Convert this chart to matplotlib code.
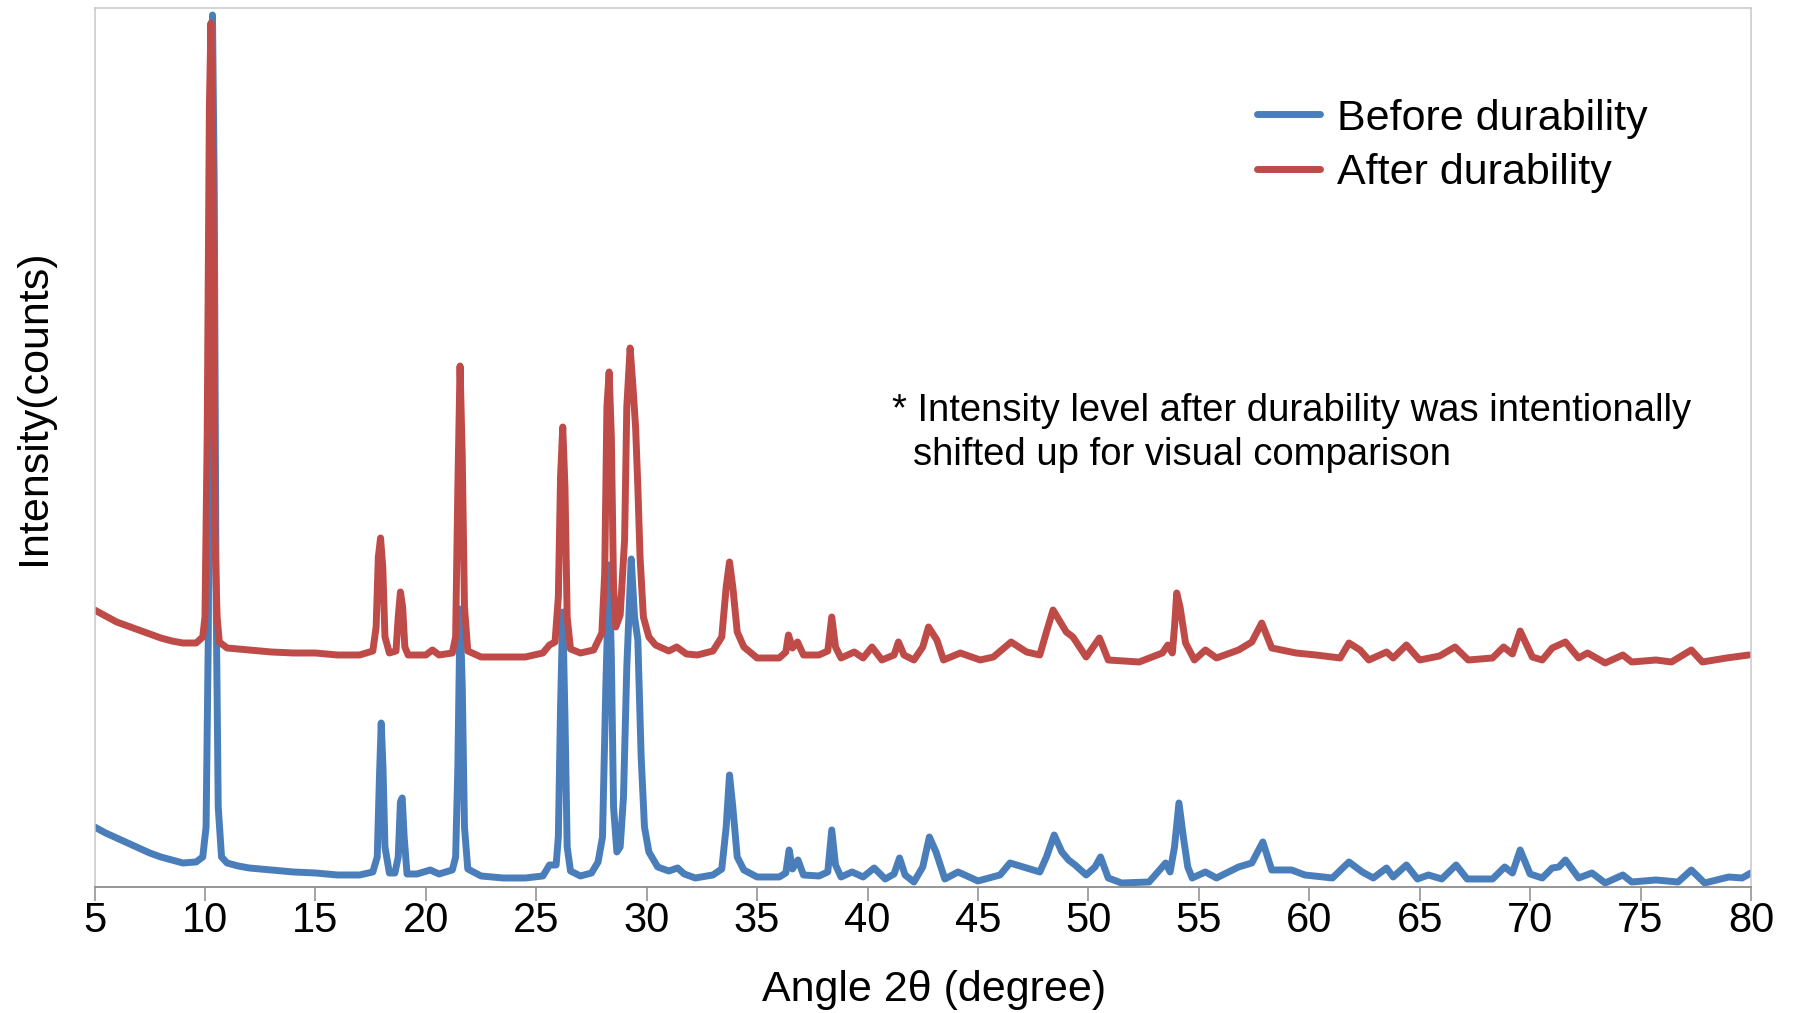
import matplotlib
matplotlib.use("Agg")
import matplotlib.pyplot as plt

plt.rcParams['font.family'] = ['Liberation Sans', 'DejaVu Sans']

# angle 2theta (degree) and intensity (arbitrary units)
before_angle = [5.0, 5.5, 6.0, 6.5, 7.0, 7.5, 8.0, 8.5, 9.0, 9.6, 9.9, 10.05, 10.15, 10.25, 10.34, 10.42, 10.5, 10.6,
                10.75, 11.0, 11.5, 12.0, 13.0, 14.0, 15.0, 16.0, 17.0, 17.6, 17.8, 17.9, 17.98, 18.06, 18.15, 18.35,
                18.6, 18.75, 18.85, 18.93, 19.02, 19.15, 19.6, 20.2, 20.6, 21.2, 21.35, 21.45, 21.55, 21.65, 21.75,
                21.9, 22.5, 23.5, 24.5, 25.3, 25.6, 25.9, 26.0, 26.1, 26.2, 26.3, 26.4, 26.55, 27.0, 27.5, 27.8, 28.0,
                28.15, 28.3, 28.4, 28.5, 28.65, 28.8, 28.95, 29.1, 29.3, 29.45, 29.6, 29.75, 29.9, 30.1, 30.5, 31.0,
                31.4, 31.7, 32.2, 33.0, 33.4, 33.6, 33.75, 33.9, 34.1, 34.4, 35.0, 36.0, 36.3, 36.45, 36.6, 36.85,
                37.1, 37.8, 38.2, 38.38, 38.55, 38.8, 39.3, 39.8, 40.3, 40.8, 41.2, 41.45, 41.7, 42.1, 42.5, 42.8,
                43.1, 43.5, 44.1, 45.0, 46.0, 46.45, 47.2, 47.8, 48.1, 48.45, 48.8, 49.1, 49.4, 49.9, 50.3, 50.55,
                50.9, 51.5, 52.75, 53.5, 53.7, 53.9, 54.1, 54.3, 54.5, 54.7, 55.3, 55.8, 56.8, 57.4, 57.9, 58.3, 59.2,
                59.8, 61.05, 61.8, 62.4, 62.9, 63.5, 63.8, 64.4, 64.9, 65.4, 66.0, 66.65, 67.15, 68.3, 68.85, 69.2,
                69.55, 70.0, 70.55, 71.0, 71.3, 71.6, 72.2, 72.8, 73.4, 74.2, 74.6, 75.7, 76.7, 77.3, 77.9, 79.0,
                79.6, 80.0]
before_counts = [60, 54, 49, 44, 39, 34, 30, 27, 24, 25, 30, 60, 250, 700, 872, 700, 300, 80,
                 30, 24, 21, 19, 17, 15, 14, 12, 12, 15, 30, 110, 164, 120, 40, 14,
                 14, 30, 85, 89, 50, 13, 13, 17, 13, 17, 30, 120, 278, 200, 60,
                 18, 11, 9, 9, 11, 22, 22, 50, 180, 275, 170, 40, 16, 11, 14, 25, 50,
                 200, 322, 230, 80, 35, 40, 90, 220, 328, 270, 247, 130, 60, 35, 20, 16,
                 19, 13, 9, 12, 18, 60, 112, 80, 30, 17, 10, 10, 14, 37, 18, 27,
                 12, 11, 15, 57, 22, 10, 15, 10, 19, 8, 13, 29, 12, 5, 20, 50,
                 35, 8, 15, 6, 12, 24, 19, 15, 30, 52, 35, 27, 22, 12, 20, 30,
                 9, 4, 5, 24, 15, 40, 84, 50, 20, 9, 15, 9, 20, 24, 45, 17, 17,
                 12, 9, 25, 15, 9, 19, 10, 22, 8, 12, 8, 22, 8, 8, 20, 14,
                 37, 13, 9, 19, 20, 27, 9, 14, 4, 12, 5, 7, 5, 17, 4, 10,
                 9, 14]

after_angle = [5.0, 5.5, 6.0, 6.5, 7.0, 7.5, 8.0, 8.5, 9.0, 9.6, 9.9, 10.0, 10.1, 10.2, 10.27, 10.36, 10.45, 10.55,
               10.65, 11.0, 12.0, 13.0, 14.0, 15.0, 16.0, 17.0, 17.6, 17.75, 17.85, 17.95, 18.05, 18.15, 18.35, 18.65,
               18.75, 18.85, 18.95, 19.05, 19.2, 20.0, 20.3, 20.6, 21.2, 21.35, 21.45, 21.55, 21.65, 21.75, 21.9,
               22.5, 23.5, 24.5, 25.3, 25.6, 25.85, 26.0, 26.1, 26.2, 26.3, 26.4, 26.55, 27.0, 27.6, 27.97, 28.1,
               28.2, 28.3, 28.4, 28.5, 28.6, 28.8, 29.0, 29.1, 29.25, 29.38, 29.5, 29.6, 29.7, 29.85, 30.1, 30.4,
               31.0, 31.36, 31.8, 32.3, 33.0, 33.4, 33.6, 33.75, 33.9, 34.1, 34.4, 35.0, 36.0, 36.3, 36.42, 36.6,
               36.83, 37.1, 37.8, 38.2, 38.38, 38.55, 38.8, 39.4, 39.8, 40.2, 40.65, 41.2, 41.4, 41.65, 42.1, 42.5,
               42.76, 43.14, 43.44, 44.2, 45.1, 45.7, 46.5, 47.2, 47.8, 48.1, 48.4, 49.0, 49.3, 49.9, 50.5, 50.9,
               52.3, 53.35, 53.6, 53.8, 53.9, 54.0, 54.15, 54.4, 54.8, 55.3, 55.8, 56.8, 57.4, 57.85, 58.3, 59.4,
               60.3, 61.4, 61.8, 62.3, 62.7, 63.5, 63.8, 64.4, 65.0, 65.9, 66.6, 67.2, 68.3, 68.8, 69.2, 69.55,
               70.1, 70.55, 71.0, 71.6, 72.2, 72.6, 73.4, 74.2, 74.6, 75.7, 76.4, 77.3, 77.8, 78.9, 79.9]
after_counts = [277, 271, 265, 261, 257, 253, 249, 246, 244, 244, 250, 270, 450, 780, 864, 720, 350, 270,
                245, 239, 237, 235, 234, 234, 232, 232, 236, 260, 330, 349, 320, 250, 234, 236,
                270, 295, 280, 240, 232, 232, 237, 232, 234, 250, 400, 521, 430, 280, 236,
                230, 230, 230, 234, 242, 245, 290, 410, 460, 400, 270, 238, 234, 237, 254, 314,
                480, 515, 450, 300, 260, 272, 347, 480, 539, 500, 459, 400, 330, 270, 250, 242,
                236, 240, 233, 232, 236, 250, 300, 325, 300, 255, 240, 229, 229, 235, 252, 239,
                245, 232, 232, 236, 270, 240, 229, 235, 229, 240, 227, 232, 245, 232, 227, 240,
                260, 247, 227, 234, 227, 230, 245, 235, 232, 255, 277, 255, 250, 230, 249, 227,
                225, 234, 242, 234, 260, 294, 280, 244, 227, 237, 229, 237, 245, 264, 239, 234,
                232, 229, 244, 237, 227, 235, 229, 242, 227, 231, 240, 227, 229, 240, 233, 256,
                230, 227, 239, 245, 229, 234, 224, 232, 225, 227, 225, 237, 225, 229, 232]

xticks = [5, 10, 15, 20, 25, 30, 35, 40, 45, 50, 55, 60, 65, 70, 75, 80]

fig = plt.figure(figsize=(17.94, 10.13), dpi=100)
ax = fig.add_axes([0.0527, 0.1244, 0.9233, 0.8677])

ax.plot(before_angle, before_counts, color='#4A7EBB', lw=5, label='Before durability',
        solid_joinstyle='round', solid_capstyle='round')
ax.plot(after_angle, after_counts, color='#BE4B48', lw=5, label='After durability',
        solid_joinstyle='round', solid_capstyle='round')

ax.set_xlim(5, 80)
ax.set_ylim(0, 879)
ax.set_xticks(xticks)
ax.set_yticks([])
ax.tick_params(axis='x', direction='out', length=10, width=1.1, color='#8C8C8C',
               labelsize=30, pad=0)

# plot area border
for side in ['left', 'top', 'right']:
    ax.spines[side].set_color('#C8C8C8')
    ax.spines[side].set_linewidth(1.1)
ax.spines['bottom'].set_color('#8C8C8C')
ax.spines['bottom'].set_linewidth(1.3)

ax.set_xlabel('Angle 2θ (degree)', fontsize=31)
ax.xaxis.set_label_coords(0.507, -0.094)
ax.set_ylabel('Intensity(counts)', fontsize=31)
ax.yaxis.set_label_coords(-0.0245, 0.546)

ax.legend(loc='upper left', bbox_to_anchor=(0.702, 0.897), frameon=False, fontsize=31,
          handlelength=1.45, handletextpad=0.4, labelspacing=0.33, borderpad=0, borderaxespad=0)

# note about the offset
fig.text(0.497, 0.584, '* Intensity level after durability was intentionally', fontsize=27.5, va='baseline')
fig.text(0.509, 0.541, 'shifted up for visual comparison', fontsize=27.5, va='baseline')

plt.savefig('out.png', dpi=100)
